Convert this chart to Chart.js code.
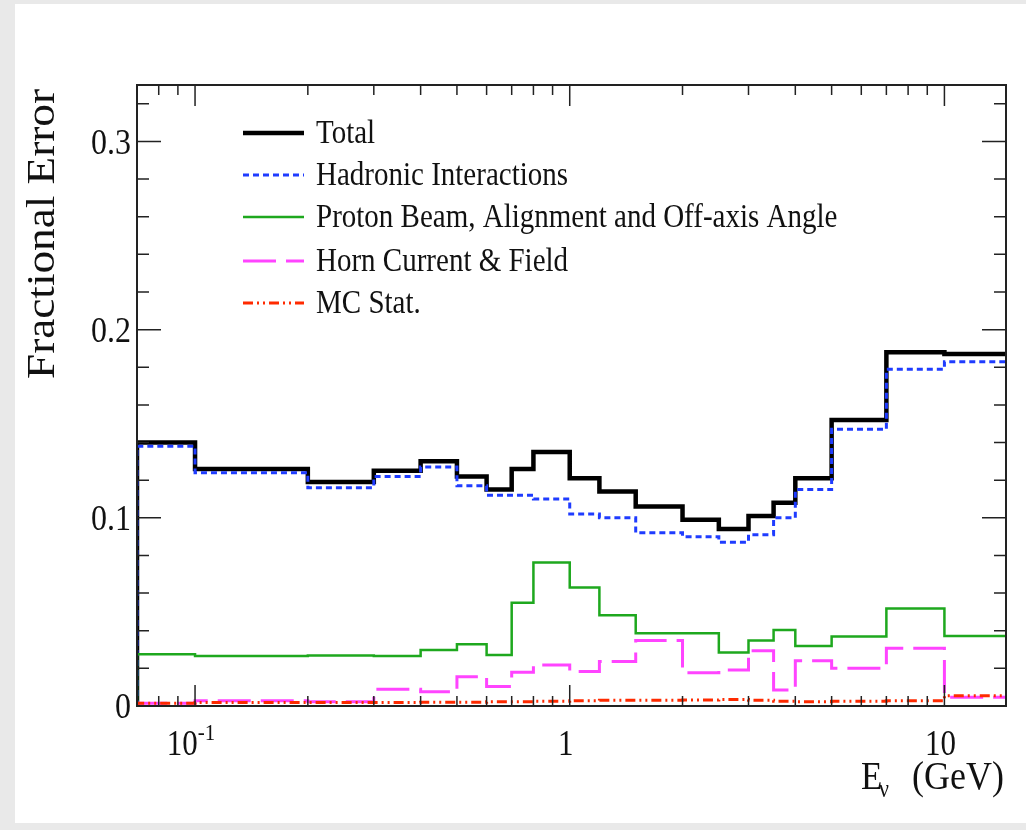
<!DOCTYPE html>
<html>
<head>
<meta charset="utf-8">
<script src="https://cdn.jsdelivr.net/npm/chart.js@4.4.1/dist/chart.umd.min.js"></script>
<style>
  html, body { margin: 0; padding: 0; background: #e9e9e9; }
  canvas { display: block; }
</style>
</head>
<body>
<canvas id="errChart" width="1026" height="830"></canvas>
<script>
// bin edges in GeV (first edge is the left end of the drawn axis)
const binEdges = [0.07, 0.1, 0.2, 0.3, 0.4, 0.5, 0.6, 0.7, 0.8, 1.0, 1.2, 1.5, 2.0, 2.5, 3.0, 3.5, 4.0, 5.0, 7.0, 10.0, 30.0];

const totalErr  = [0.140, 0.126, 0.119, 0.125, 0.130, 0.122, 0.115, 0.126, 0.135, 0.121, 0.114, 0.106, 0.099, 0.094, 0.101, 0.108, 0.121, 0.152, 0.188, 0.187];
const hadronErr = [0.138, 0.124, 0.116, 0.122, 0.127, 0.117, 0.112, 0.112, 0.110, 0.102, 0.100, 0.092, 0.090, 0.087, 0.091, 0.100, 0.115, 0.147, 0.179, 0.183];
const beamErr   = [0.0275, 0.0266, 0.0268, 0.0266, 0.0298, 0.0328, 0.0271, 0.0549, 0.0762, 0.0630, 0.0482, 0.0387, 0.0387, 0.0284, 0.0348, 0.0404, 0.0319, 0.0369, 0.0518, 0.0372];
const hornErr   = [0.0015, 0.0028, 0.0023, 0.0089, 0.0076, 0.0156, 0.0103, 0.0179, 0.0218, 0.0183, 0.0236, 0.0348, 0.0177, 0.0191, 0.0293, 0.0085, 0.0241, 0.0200, 0.0307, 0.0046];
const mcStatErr = [0.0015, 0.0018, 0.0018, 0.0018, 0.0020, 0.0020, 0.0022, 0.0022, 0.0025, 0.0028, 0.0030, 0.0030, 0.0032, 0.0035, 0.0030, 0.0025, 0.0022, 0.0025, 0.0028, 0.0055];

const seriesNames = ["Total", "Hadronic Interactions", "Proton Beam, Alignment and Off-axis Angle", "Horn Current & Field", "MC Stat."];

const yTicks = [0, 0.1, 0.2, 0.3];
const yTickLabels = ["0", "0.1", "0.2", "0.3"];
const xTicks = [0.1, 1, 10];
const xTickLabels = ["10", "1", "10"];
const xTickSup = ["-1", "", ""];

const xMin = 0.07, xMax = 14.6, yMin = 0, yMax = 0.33;
const SERIF = '"Liberation Serif", "DejaVu Serif", serif';
const STRETCH = 1.13;   // text in the reference is a bit taller than wide

// histogram outline: start at 0 on the first edge, then one step per bin
function histPoints(vals) {
    const pts = [{ x: binEdges[0], y: 0 }];
    vals.forEach((v, i) => pts.push({ x: binEdges[i], y: v }));
    pts.push({ x: binEdges[vals.length], y: vals[vals.length - 1] });
    return pts;
}

function makeSet(label, vals, color, width, dash, order) {
    return {
        label: label,
        data: histPoints(vals),
        borderColor: color,
        borderWidth: width,
        borderDash: dash,
        stepped: "before",
        pointRadius: 0,
        fill: false,
        order: order,
        clip: 0
    };
}

function txt(ctx, s, x, y, size, align, base) {
    ctx.save();
    ctx.translate(x, y);
    ctx.scale(1, STRETCH);
    ctx.font = size + "px " + SERIF;
    ctx.textAlign = align || "left";
    ctx.textBaseline = base || "alphabetic";
    ctx.fillText(s, 0, 0);
    ctx.restore();
}

const framePlugin = {
    id: "rootFrame",
    beforeDraw(chart) {
        const ctx = chart.ctx;
        ctx.save();
        ctx.fillStyle = "#e9e9e9";
        ctx.fillRect(0, 0, chart.width, chart.height);
        ctx.fillStyle = "#ffffff";
        ctx.fillRect(15, 4, chart.width - 15, 819);
        ctx.restore();
    },
    afterDraw(chart) {
        const ctx = chart.ctx;
        const a = chart.chartArea;
        const xs = chart.scales.x, ys = chart.scales.y;
        ctx.save();
        ctx.strokeStyle = "#222";
        ctx.fillStyle = "#111";

        // frame
        ctx.lineWidth = 2;
        ctx.strokeRect(a.left, a.top, a.right - a.left, a.bottom - a.top);

        // y ticks, inside on both sides
        ctx.lineWidth = 1.5;
        for (let k = 0; k <= 16; k++) {
            const v = k * 0.02;
            if (v > yMax) break;
            const py = ys.getPixelForValue(v);
            const len = (k % 5 === 0) ? 24 : 12;
            ctx.beginPath();
            ctx.moveTo(a.left, py); ctx.lineTo(a.left + len, py);
            ctx.moveTo(a.right, py); ctx.lineTo(a.right - len, py);
            ctx.stroke();
        }
        // x ticks, log decades
        for (let d = -2; d <= 1; d++) {
            for (let m = 1; m <= 9; m++) {
                const v = m * Math.pow(10, d);
                if (v < xMin || v > xMax) continue;
                const px = xs.getPixelForValue(v);
                const len = (m === 1) ? 21 : 10;
                ctx.beginPath();
                ctx.moveTo(px, a.bottom); ctx.lineTo(px, a.bottom - len);
                ctx.moveTo(px, a.top); ctx.lineTo(px, a.top + len);
                ctx.stroke();
            }
        }

        // y tick labels
        yTicks.forEach((v, i) => {
            txt(ctx, yTickLabels[i], a.left - 6, ys.getPixelForValue(v) + 3, 32, "right", "middle");
        });
        // x tick labels
        xTicks.forEach((v, i) => {
            const px = xs.getPixelForValue(v);
            const base = 755;
            ctx.font = "31px " + SERIF;
            const w = ctx.measureText(xTickLabels[i]).width;
            ctx.font = "21px " + SERIF;
            const ws = xTickSup[i] ? ctx.measureText(xTickSup[i]).width : 0;
            const x0 = px - (w + ws) / 2 - 4;
            txt(ctx, xTickLabels[i], x0, base, 31, "left");
            if (xTickSup[i]) txt(ctx, xTickSup[i], x0 + w, base - 15, 21, "left");
        });

        // axis titles
        ctx.save();
        ctx.translate(43, 234);
        ctx.scale(1, STRETCH);
        ctx.rotate(-Math.PI / 2);
        ctx.font = "40px " + SERIF;
        ctx.textAlign = "center";
        ctx.textBaseline = "middle";
        ctx.fillText("Fractional Error", 0, 0);
        ctx.restore();

        txt(ctx, "(GeV)", 1004, 789, 36, "right");
        txt(ctx, "E", 861, 789, 35, "left");
        txt(ctx, "ν", 879, 797, 22, "left");

        // legend
        const rows = [133, 175, 217, 261, 303];
        chart.data.datasets.forEach((ds, i) => {
            const y = rows[i];
            ctx.save();
            ctx.strokeStyle = ds.borderColor;
            ctx.lineWidth = ds.borderWidth;
            ctx.setLineDash(ds.borderDash || []);
            ctx.beginPath();
            ctx.moveTo(243, y); ctx.lineTo(304, y);
            ctx.stroke();
            ctx.restore();
            txt(ctx, ds.label, 316, y + 1, 29, "left", "middle");
        });
        ctx.restore();
    }
};

new Chart(document.getElementById("errChart"), {
    type: "line",
    data: {
        datasets: [
            makeSet(seriesNames[0], totalErr, "#000000", 4.5, [], 5),
            makeSet(seriesNames[1], hadronErr, "#1f3cff", 3, [6, 4], 4),
            makeSet(seriesNames[2], beamErr, "#1ea81e", 2.5, [], 3),
            makeSet(seriesNames[3], hornErr, "#ff44ff", 3, [33, 10], 2),
            makeSet(seriesNames[4], mcStatErr, "#ff2a00", 3, [10, 4, 2, 4, 2, 4], 1)
        ]
    },
    options: {
        responsive: false,
        animation: false,
        devicePixelRatio: 1,
        layout: { padding: { left: 137, top: 85, right: 20, bottom: 124 } },
        plugins: { legend: { display: false }, tooltip: { enabled: false } },
        scales: {
            x: { type: "logarithmic", min: xMin, max: xMax, display: false },
            y: { type: "linear", min: yMin, max: yMax, display: false }
        }
    },
    plugins: [framePlugin]
});
</script>
</body>
</html>
